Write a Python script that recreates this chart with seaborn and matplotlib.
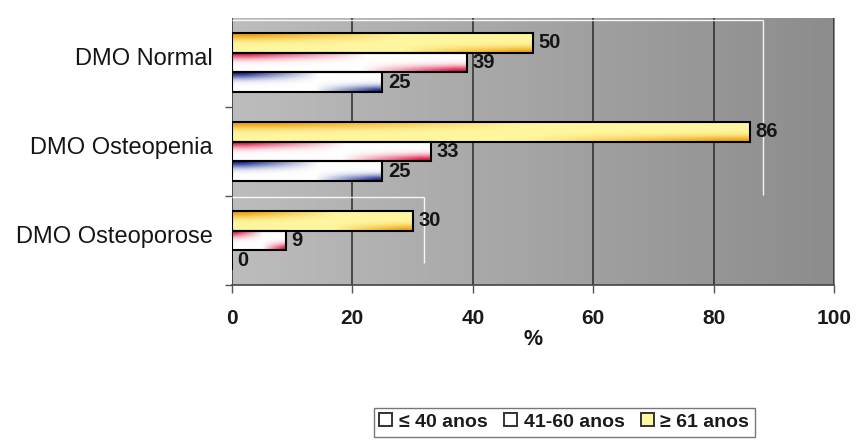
import numpy as np
import pandas as pd
import matplotlib
matplotlib.use("Agg")
import matplotlib.pyplot as plt
import matplotlib.transforms as mtransforms
from matplotlib.patches import Patch
import seaborn as sns

# Bone mineral density (DMO) distribution by age group, in %
categorias = ["DMO Normal", "DMO Osteopenia", "DMO Osteoporose"]
faixas = ["≤ 40 anos", "41-60 anos", "≥ 61 anos"]
ate_40 = [25, 25, 0]
de_41_a_60 = [39, 33, 9]
acima_61 = [50, 86, 30]
x_ticks = [0, 20, 40, 60, 80, 100]

df = pd.DataFrame({
    "categoria": categorias * 3,
    "faixa": [faixas[0]] * 3 + [faixas[1]] * 3 + [faixas[2]] * 3,
    "valor": ate_40 + de_41_a_60 + acima_61,
})

sns.set_theme(style="white")
plt.rcParams["font.family"] = ["Liberation Sans", "DejaVu Sans"]

# order drawn top-to-bottom inside each group
ordem = [faixas[2], faixas[1], faixas[0]]
base = {faixas[0]: "#ffffff", faixas[1]: "#ffffff", faixas[2]: "#fff7a0"}
borda = {faixas[0]: "#16288a", faixas[1]: "#dc1040", faixas[2]: "#eea010"}

fig = plt.figure(figsize=(8.59, 4.48), dpi=100)
ax = fig.add_axes([0.27, 0.364, 0.701, 0.596])

# plot-area background: grey, darker towards the right
grad = np.linspace(0, 1, 256)[None, :]
bg = np.dstack([0.74 - 0.19 * grad] * 3)
ax.imshow(bg, extent=(0, 1, 0, 1), transform=ax.transAxes, aspect="auto",
          zorder=0, interpolation="bilinear")

sns.barplot(data=df, y="categoria", x="valor", hue="faixa", hue_order=ordem,
            order=categorias, orient="h", width=0.66, dodge=True,
            palette=[base[f] for f in ordem], saturation=1,
            edgecolor="black", linewidth=1.4, legend=False, ax=ax, zorder=3)

# shaded fills for every bar (coloured top-left and bottom-right edges)
H, W = 40, 200
v = np.linspace(0, 1, H)[:, None]
u = np.linspace(0, 1, W)[None, :]
i_top = np.clip(1.15 - u / 0.5, 0, 1) * np.exp(-(v / 0.33) ** 2)
i_bot = np.clip((u - 0.55) / 0.4, 0, 1) * np.exp(-((1 - v) / 0.3) ** 2)
intens = np.clip(np.maximum(i_top, i_bot), 0, 1)[..., None]

for faixa, cont in zip(ordem, ax.containers):
    c0 = np.array(matplotlib.colors.to_rgb(base[faixa]))
    c1 = np.array(matplotlib.colors.to_rgb(borda[faixa]))
    img = c0 * (1 - intens) + c1 * intens
    for bar in cont:
        w = bar.get_width()
        if w <= 0:
            continue
        y0, h = bar.get_y(), bar.get_height()
        im = ax.imshow(img, extent=(0, w, y0 + h, y0), aspect="auto",
                       zorder=3.5, interpolation="bilinear")
        im.set_clip_path(bar)
        edge = plt.Rectangle((0, y0), w, h, fill=False, edgecolor="black",
                             linewidth=1.5, zorder=4)
        ax.add_patch(edge)
    ax.bar_label(cont, labels=[f"{int(x)}" for x in cont.datavalues],
                 padding=4, fontsize=14.5, fontweight="bold", color="#151515",
                 zorder=5)

ax.set_xlim(0, 100)
ax.set_ylim(2.5, -0.5)
ax.set_xticks(x_ticks)
ax.set_xticklabels([str(t) for t in x_ticks], fontsize=15, fontweight="bold",
                   color="#1a1a1a")
ax.xaxis.grid(True, color="#2a2a2a", linewidth=1.1, zorder=1)
ax.set_axisbelow(True)
for gl in ax.get_xgridlines():
    gl.set_zorder(1)

ax.set_yticks(range(len(categorias)))
ax.set_yticklabels(categorias, fontsize=17, color="#151515")
ax.set_yticks([0.5, 1.5, 2.5], minor=True)
ax.tick_params(axis="y", which="major", length=0, pad=14)
ax.tick_params(axis="y", which="minor", length=5, width=1, color="#555555",
               direction="out", left=True)
ax.tick_params(axis="x", length=6, width=1, color="#555555", pad=11,
               direction="out", bottom=True)
lift = mtransforms.ScaledTranslation(0, 4 / 72, fig.dpi_scale_trans)
for lbl in ax.get_yticklabels():
    lbl.set_transform(lbl.get_transform() + lift)

ax.set_xlabel("%", fontsize=15.5, fontweight="bold", labelpad=1, color="#151515")
ax.set_ylabel("")

for s in ["top", "right", "left"]:
    ax.spines[s].set_visible(False)
ax.spines["bottom"].set_color("#444444")
ax.spines["bottom"].set_linewidth(1.2)

# light frame lines of the inner wall
for xs, ys in [([0.0, 0.882], [0.993, 0.993]), ([0.882, 0.882], [0.993, 0.337]),
               ([0.0, 0.319], [0.330, 0.330]), ([0.319, 0.319], [0.330, 0.082])]:
    ax.plot(xs, ys, transform=ax.transAxes, color="white", linewidth=1,
            alpha=0.9, zorder=2, solid_capstyle="butt")

handles = [Patch(facecolor="#ffffff", edgecolor="#333333", linewidth=1.4),
           Patch(facecolor="#ffffff", edgecolor="#333333", linewidth=1.4),
           Patch(facecolor="#fff8a0", edgecolor="#333333", linewidth=1.4)]
leg = fig.legend(handles, faixas, loc="center", bbox_to_anchor=(0.657, 0.058),
                 ncol=3, frameon=True, fancybox=False, edgecolor="#555555",
                 handlelength=0.65, handleheight=0.65, handletextpad=0.35,
                 columnspacing=0.85, borderpad=0.3,
                 prop={"size": 14, "weight": "bold"})
leg.get_frame().set_linewidth(1.0)
for t in leg.get_texts():
    t.set_color("#1a1a1a")

fig.savefig("out.png", dpi=100, facecolor="white")
